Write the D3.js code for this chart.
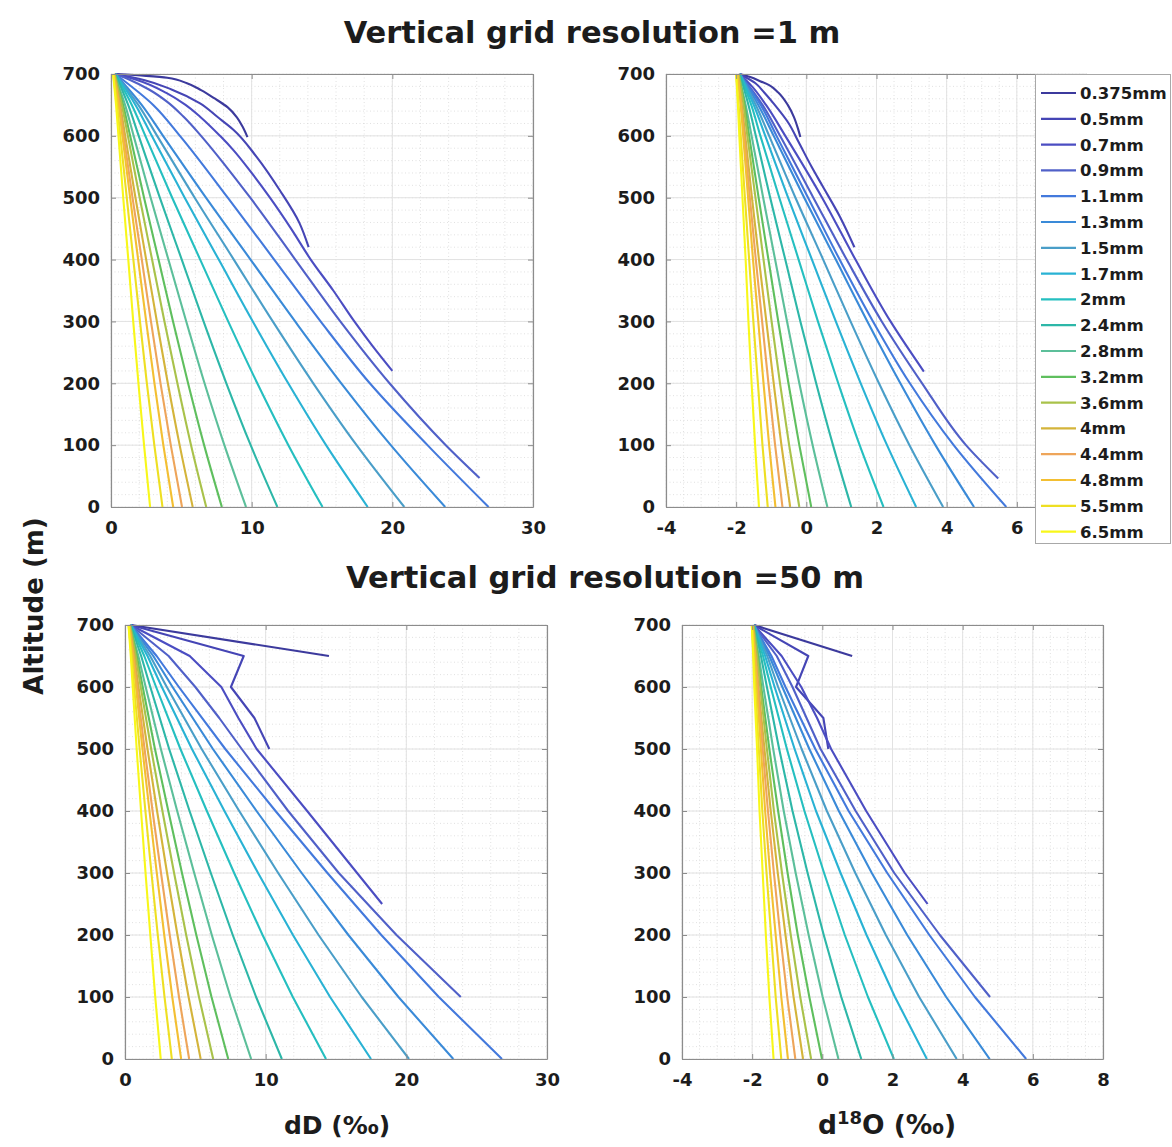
<!DOCTYPE html>
<html>
<head>
<meta charset="utf-8">
<script src="https://cdn.jsdelivr.net/npm/d3@7"></script>
<style>
  body { margin: 0; background: #fff; }
  svg text { font-family: "DejaVu Sans", "Liberation Sans", sans-serif; font-weight: bold; fill: #1c1c1c; }
</style>
</head>
<body>
<svg id="chart" width="1172" height="1147"></svg>
<script>
// Raindrop diameters (legend order) and their line colours
const dropSizes = ["0.375mm","0.5mm","0.7mm","0.9mm","1.1mm","1.3mm","1.5mm","1.7mm","2mm",
  "2.4mm","2.8mm","3.2mm","3.6mm","4mm","4.4mm","4.8mm","5.5mm","6.5mm"];
const dropColors = ["#3c3a9d","#4545b5","#4b4dc2","#5060c8","#4379dc","#3a8ad8","#4a9ec8","#29b2d4","#25bfc0",
  "#2db7a8","#5cbf9a","#5fbf5e","#a9c24a","#d4b43a","#eea55a","#f3bf32","#eedf22","#f8f71a"];

// Altitude levels (m) used by the full-length profiles
const altLevels = [700, 650, 600, 500, 400, 300, 200, 100, 0];
const altTicks = [0, 100, 200, 300, 400, 500, 600, 700];
const dDTicks = [0, 10, 20, 30];
const d18OTicks = [-4, -2, 0, 2, 4, 6, 8];

// dD (permil) profiles, 1 m vertical grid; short profiles are [altitude, value] pairs
const dD_1m = [
  [[700,0.3],[697,2.5],[694,4.0],[685,5.4],[674,6.4],[660,7.4],[646,8.3],[630,8.95],[615,9.35],[598,9.7]],
  [[700,0.3],[690,2.4],[675,4.3],[653,6.3],[630,7.6],[610,8.7],[566,10.35],[512,12.0],[459,13.4],[420,14.05]],
  [[700,0.3],[690,1.9],[669,3.96],[650,5.3],[631,6.33],[600,7.75],[577,8.7],[540,10.0],[500,11.3],[450,12.8],[400,14.2],[350,15.8],[300,17.3],[260,18.6],[220,20.0]],
  [[700,0.3],[690,1.4],[675,2.7],[655,4.0],[630,5.2],[600,6.4],[550,8.2],[500,9.9],[400,13.1],[300,16.3],[200,19.8],[100,23.8],[47,26.2]],
  [0.3,3.0,4.9,8.3,11.6,14.9,18.4,22.5,26.84],
  [0.3,2.18,3.70,6.75,9.92,13.09,16.37,19.89,23.76],
  [0.3,1.94,3.28,5.95,8.73,11.5,14.38,17.46,20.85],
  [0.3,1.74,2.90,5.24,7.66,10.08,12.60,15.29,18.25],
  [0.3,1.48,2.44,4.35,6.34,8.33,10.40,12.61,15.04],
  [0.3,1.22,1.97,3.47,5.03,6.58,8.20,9.93,11.83],
  [0.25,1.0,1.61,2.82,4.08,5.35,6.65,8.06,9.6],
  [0.25,0.86,1.36,2.35,3.38,4.41,5.48,6.62,7.88],
  [0.25,0.77,1.20,2.04,2.92,3.80,4.72,5.69,6.77],
  [0.2,0.65,1.01,1.74,2.50,3.26,4.04,4.88,5.81],
  [0.2,0.59,0.90,1.53,2.19,2.84,3.52,4.25,5.05],
  [0.2,0.54,0.81,1.36,1.93,2.50,3.09,3.72,4.42],
  [0.15,0.43,0.66,1.12,1.59,2.06,2.55,3.08,3.66],
  [0.15,0.36,0.53,0.87,1.23,1.58,1.95,2.35,2.78]
];

// d18O (permil) profiles, 1 m vertical grid
const d18O_1m = [
  [[700,-1.9],[695,-1.6],[688,-1.3],[682,-1.06],[670,-0.8],[650,-0.53],[630,-0.35],[612,-0.24],[598,-0.17]],
  [[700,-1.9],[685,-1.45],[670,-1.2],[650,-0.9],[620,-0.5],[590,-0.22],[550,0.15],[520,0.45],[470,0.95],[420,1.37]],
  [[700,-1.9],[680,-1.55],[650,-1.15],[600,-0.6],[500,0.45],[400,1.4],[300,2.4],[219,3.35]],
  [[700,-1.9],[650,-1.25],[600,-0.75],[500,0.2],[400,1.15],[300,2.15],[200,3.3],[100,4.55],[46,5.47]],
  [-1.9,-1.3,-0.85,0.05,0.95,1.9,2.95,4.2,5.7],
  [-1.9,-1.37,-0.93,-0.06,0.84,1.74,2.68,3.68,4.78],
  [-1.9,-1.44,-1.06,-0.31,0.48,1.26,2.07,2.94,3.9],
  [-1.9,-1.50,-1.17,-0.52,0.16,0.84,1.55,2.3,3.13],
  [-1.9,-1.57,-1.31,-0.77,-0.22,0.33,0.91,1.52,2.2],
  [-1.9,-1.65,-1.44,-1.03,-0.60,-0.17,0.28,0.76,1.28],
  [-1.93,-1.73,-1.56,-1.23,-0.89,-0.55,-0.20,0.18,0.6],
  [-1.93,-1.76,-1.63,-1.36,-1.08,-0.80,-0.51,-0.20,0.14],
  [-1.93,-1.79,-1.68,-1.45,-1.22,-0.99,-0.75,-0.49,-0.2],
  [-1.96,-1.84,-1.74,-1.55,-1.35,-1.14,-0.93,-0.71,-0.46],
  [-1.96,-1.86,-1.77,-1.61,-1.44,-1.26,-1.08,-0.89,-0.68],
  [-1.96,-1.87,-1.80,-1.66,-1.52,-1.37,-1.22,-1.06,-0.88],
  [-2.0,-1.93,-1.87,-1.75,-1.63,-1.51,-1.38,-1.25,-1.1],
  [-2.0,-1.95,-1.91,-1.82,-1.73,-1.65,-1.56,-1.46,-1.35]
];

// dD (permil) profiles, 50 m vertical grid
const dD_50m = [
  [[700,0.4],[650,14.5]],
  [[700,0.4],[650,8.44],[600,7.53],[550,9.2],[500,10.26]],
  [[700,0.4],[650,4.6],[600,6.85],[550,8.06],[500,9.36],[400,12.95],[300,16.5],[250,18.28]],
  [[700,0.4],[650,3.1],[600,5.0],[550,6.7],[500,8.3],[400,11.6],[300,15.2],[200,19.3],[100,23.87]],
  [0.4,2.25,3.83,7.13,10.7,14.39,18.22,22.31,26.8],
  [0.4,2.01,3.38,6.25,9.35,12.56,15.88,19.44,23.34],
  [0.4,1.79,2.97,5.45,8.12,10.89,13.76,16.83,20.19],
  [0.4,1.60,2.62,4.76,7.07,9.46,11.94,14.58,17.49],
  [0.4,1.37,2.21,3.94,5.82,7.76,9.78,11.93,14.29],
  [0.4,1.15,1.80,3.14,4.59,6.10,7.66,9.32,11.15],
  [0.35,0.95,1.47,2.55,3.71,4.92,6.17,7.50,8.97],
  [0.35,0.84,1.26,2.13,3.08,4.05,5.07,6.15,7.34],
  [0.35,0.76,1.12,1.86,2.66,3.49,4.35,5.26,6.27],
  [0.3,0.66,0.96,1.60,2.28,2.99,3.73,4.52,5.38],
  [0.3,0.60,0.85,1.39,1.96,2.56,3.18,3.84,4.56],
  [0.3,0.56,0.78,1.24,1.74,2.26,2.79,3.36,3.99],
  [0.25,0.47,0.65,1.04,1.45,1.88,2.33,2.81,3.33],
  [0.25,0.41,0.55,0.83,1.14,1.46,1.80,2.15,2.54]
];

// d18O (permil) profiles, 50 m vertical grid
const d18O_50m = [
  [[700,-1.95],[650,0.85]],
  [[700,-1.95],[650,-0.4],[600,-0.75],[550,0.03],[500,0.17]],
  [[700,-1.95],[650,-1.16],[600,-0.6],[550,-0.15],[500,0.25],[400,1.25],[300,2.35],[250,3.0]],
  [[700,-1.95],[650,-1.3],[600,-0.85],[550,-0.45],[500,-0.05],[400,0.95],[300,2.05],[200,3.35],[100,4.78]],
  [-1.95,-1.45,-1.05,-0.2,0.75,1.85,3.05,4.35,5.81],
  [-1.95,-1.51,-1.14,-0.37,0.47,1.41,2.42,3.53,4.77],
  [-1.95,-1.57,-1.26,-0.59,0.13,0.94,1.81,2.76,3.83],
  [-1.95,-1.63,-1.36,-0.79,-0.18,0.52,1.26,2.07,2.98],
  [-1.95,-1.69,-1.47,-1.01,-0.51,0.05,0.64,1.30,2.04],
  [-1.95,-1.75,-1.58,-1.23,-0.85,-0.42,0.04,0.54,1.11],
  [-1.97,-1.81,-1.68,-1.40,-1.10,-0.76,-0.39,0.01,0.46],
  [-1.97,-1.84,-1.74,-1.51,-1.26,-0.99,-0.70,-0.37,-0.01],
  [-1.97,-1.86,-1.77,-1.58,-1.38,-1.15,-0.90,-0.63,-0.32],
  [-1.99,-1.90,-1.82,-1.65,-1.47,-1.27,-1.05,-0.82,-0.55],
  [-1.99,-1.91,-1.84,-1.70,-1.55,-1.38,-1.20,-1.00,-0.77],
  [-1.99,-1.92,-1.87,-1.75,-1.63,-1.49,-1.33,-1.17,-0.98],
  [-2.01,-1.96,-1.91,-1.81,-1.71,-1.59,-1.46,-1.33,-1.17],
  [-2.01,-1.97,-1.94,-1.86,-1.79,-1.70,-1.61,-1.51,-1.39]
];

const svg = d3.select("#chart");

// Turn a profile into [altitude, value] points
function toPoints(profile) {
  return Array.isArray(profile[0]) ? profile : profile.map((v, i) => [altLevels[i], v]);
}

function range(a, b, step) {
  const out = [];
  for (let v = a; v <= b + 1e-9; v += step) out.push(+v.toFixed(6));
  return out;
}

// plain hyphen-minus tick labels
const plainFormat = d => String(d);

const panelDefs = [
  { key: "a", data: dD_1m,   left: 111, right: 533,  top: 74,  bottom: 507,  xDomain: [0, 30], xTicks: dDTicks,   xLabels: dDTicks,              xMinor: 2,   curve: d3.curveMonotoneY },
  { key: "b", data: d18O_1m, left: 666, right: 1087, top: 74,  bottom: 507,  xDomain: [-4, 8], xTicks: d18OTicks, xLabels: d18OTicks.slice(0, 6), xMinor: 0.5, curve: d3.curveMonotoneY },
  { key: "c", data: dD_50m,  left: 125, right: 547,  top: 625, bottom: 1059, xDomain: [0, 30], xTicks: dDTicks,   xLabels: dDTicks,              xMinor: 2,   curve: d3.curveLinear },
  { key: "d", data: d18O_50m,left: 682, right: 1103, top: 625, bottom: 1059, xDomain: [-4, 8], xTicks: d18OTicks, xLabels: d18OTicks,            xMinor: 0.5, curve: d3.curveLinear }
];

panelDefs.forEach(p => {
  const x = d3.scaleLinear().domain(p.xDomain).range([p.left, p.right]);
  const y = d3.scaleLinear().domain([0, 700]).range([p.bottom, p.top]);
  const g = svg.append("g");

  // minor grid (dotted)
  const minor = g.append("g").attr("stroke", "#d9d9d9").attr("stroke-width", 0.8).attr("stroke-dasharray", "1,2.5");
  range(p.xDomain[0], p.xDomain[1], p.xMinor).forEach(v => {
    minor.append("line").attr("x1", x(v)).attr("x2", x(v)).attr("y1", p.top).attr("y2", p.bottom);
  });
  range(0, 700, 20).forEach(v => {
    minor.append("line").attr("x1", p.left).attr("x2", p.right).attr("y1", y(v)).attr("y2", y(v));
  });
  // major grid
  const major = g.append("g").attr("stroke", "#e2e2e2").attr("stroke-width", 1);
  p.xTicks.forEach(v => major.append("line").attr("x1", x(v)).attr("x2", x(v)).attr("y1", p.top).attr("y2", p.bottom));
  altTicks.forEach(v => major.append("line").attr("x1", p.left).attr("x2", p.right).attr("y1", y(v)).attr("y2", y(v)));

  // profiles
  const clipId = "clip-" + p.key;
  svg.append("clipPath").attr("id", clipId).append("rect")
    .attr("x", p.left).attr("y", p.top - 2).attr("width", p.right - p.left).attr("height", p.bottom - p.top + 2);
  const line = d3.line().x(d => x(d[1])).y(d => y(d[0])).curve(p.curve);
  g.append("g").attr("clip-path", `url(#${clipId})`)
    .selectAll("path").data(p.data).join("path")
    .attr("d", d => line(toPoints(d)))
    .attr("fill", "none")
    .attr("stroke", (d, i) => dropColors[i])
    .attr("stroke-width", 2.1)
    .attr("stroke-linejoin", "round");

  // axes with inward ticks on all four sides
  const bottomAxis = d3.axisBottom(x).tickValues(p.xTicks).tickSize(-5).tickSizeOuter(0).tickPadding(14)
    .tickFormat(d => p.xLabels.includes(d) ? plainFormat(d) : "");
  const leftAxis = d3.axisLeft(y).tickValues(altTicks).tickSize(-5).tickSizeOuter(0).tickPadding(11).tickFormat(plainFormat);
  const topAxis = d3.axisTop(x).tickValues(p.xTicks).tickSize(-5).tickSizeOuter(0).tickFormat("");
  const rightAxis = d3.axisRight(y).tickValues(altTicks).tickSize(-5).tickSizeOuter(0).tickFormat("");

  const ax = [
    g.append("g").attr("transform", `translate(0,${p.bottom})`).call(bottomAxis),
    g.append("g").attr("transform", `translate(${p.left},0)`).call(leftAxis),
    g.append("g").attr("transform", `translate(0,${p.top})`).call(topAxis),
    g.append("g").attr("transform", `translate(${p.right},0)`).call(rightAxis)
  ];
  ax.forEach(a => {
    a.select(".domain").attr("stroke", "#8c8c8c").attr("stroke-width", 1.2);
    a.selectAll(".tick line").attr("stroke", "#8c8c8c");
    a.selectAll(".tick text").attr("font-size", 18).attr("font-family", "DejaVu Sans").attr("font-weight", "bold").attr("fill", "#1c1c1c");
  });
});

// titles
svg.append("text").attr("x", 592).attr("y", 43).attr("text-anchor", "middle").attr("font-size", 30.5)
  .text("Vertical grid resolution =1 m");
svg.append("text").attr("x", 605).attr("y", 588).attr("text-anchor", "middle").attr("font-size", 30.5)
  .text("Vertical grid resolution =50 m");

// axis labels
svg.append("text").attr("transform", "translate(43,606) rotate(-90)").attr("text-anchor", "middle").attr("font-size", 26)
  .text("Altitude (m)");
svg.append("text").attr("x", 337).attr("y", 1134).attr("text-anchor", "middle").attr("font-size", 25)
  .text("dD (‰)");
const d18Label = svg.append("text").attr("x", 887).attr("y", 1134).attr("text-anchor", "middle").attr("font-size", 26.5);
d18Label.append("tspan").text("d");
d18Label.append("tspan").attr("font-size", 18).attr("dy", -10).text("18");
d18Label.append("tspan").attr("dy", 10).text("O (‰)");

// legend drawn over the upper-right panel
const lg = svg.append("g");
lg.append("rect").attr("x", 1035.5).attr("y", 74.5).attr("width", 135).attr("height", 469)
  .attr("fill", "#fff").attr("stroke", "#a8a8a8").attr("stroke-width", 1);
dropSizes.forEach((s, i) => {
  const yy = 93 + i * 25.8;
  lg.append("line").attr("x1", 1041).attr("x2", 1076).attr("y1", yy).attr("y2", yy)
    .attr("stroke", dropColors[i]).attr("stroke-width", 2.2);
  lg.append("text").attr("x", 1080).attr("y", yy + 6).attr("font-size", 16.5).text(s);
});
</script>
</body>
</html>
